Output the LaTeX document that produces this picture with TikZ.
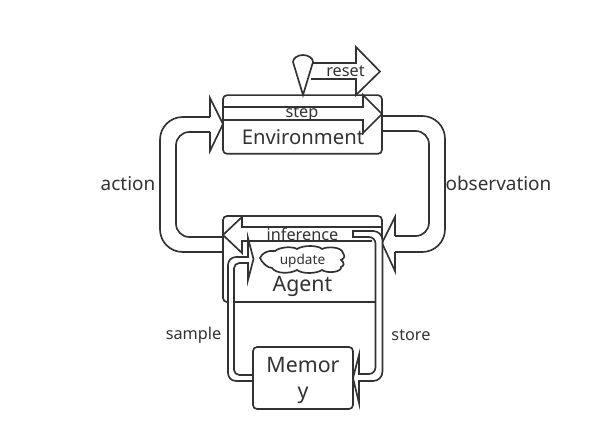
\documentclass[tikz,border=0pt]{standalone}
\usepackage{fontspec}
\setmainfont{Noto Sans}
\definecolor{ink}{HTML}{323232}
\tikzset{
    boxpart/.style={draw=ink, line width=1.25pt, rounded corners=3pt, inner sep=0pt},
    flow/.style={draw=ink, line width=1.25pt, line join=miter},
    bigtext/.style={text=ink, inner sep=0pt, font=\fontsize{15.2}{20}\selectfont},
    agenttext/.style={text=ink, inner sep=0pt, align=center, font=\fontsize{16}{19.5}\selectfont},
    midtext/.style={text=ink, inner sep=0pt, font=\fontsize{14.2}{17}\selectfont},
    smalltext/.style={text=ink, inner sep=0pt, font=\fontsize{12.2}{15}\selectfont}
}
\begin{document}
\begin{tikzpicture}[x=0.75pt, y=-0.75pt]
    \useasboundingbox (0,0) rectangle (611,442);

    % Boxes
    \node[boxpart, minimum width=119.25pt, minimum height=44pt] (envBox) at (302.5,124.5) {};
    \node[boxpart, minimum width=119.25pt, minimum height=64.5pt] (agentBox) at (302.5,259) {};

    % Reset
    \draw[flow] (303,95) -- (293,62) .. controls (293,58) and (298,55) .. (303,55)
        .. controls (308,55) and (313,58) .. (313,62) -- cycle;
    \draw[flow] (313,63) -- (356,63) -- (356,47) -- (380,71.5) -- (356,95) -- (356,79) -- (311,79);

    % Step
    \draw[flow] (223,107) -- (363,107) -- (363,95) -- (382,114) -- (363,133) -- (363,120) -- (223,120);

    % Action
    \draw[flow, rounded corners=17pt] (223,252) -- (160,252) -- (160,117) -- (210,117);
    \draw[flow, rounded corners=10pt] (223,237) -- (176,237) -- (176,132) -- (210,132);
    \draw[flow] (210,117) -- (210,98) -- (223,124) -- (210,151) -- (210,132);

    % Observation
    \draw[flow, rounded corners=17pt] (382,116) -- (445,116) -- (445,252) -- (395,252);
    \draw[flow, rounded corners=10pt] (382,131) -- (429,131) -- (429,236) -- (395,236);
    \draw[flow] (395,236) -- (395,217) -- (382,243) -- (395,271) -- (395,252);

    % Inference
    \draw[flow] (382,227) -- (242,227) -- (242,217) -- (223,235) -- (242,253) -- (242,241) -- (372,241);

    % Store
    \draw[flow, fill=white] (353,231) {[rounded corners=7pt] -- (382.5,231) -- (382.5,381)} -- (359,381)
        -- (359,403) -- (353,378) -- (359,355) -- (359,374)
        {[rounded corners=5pt] -- (375.5,374) -- (375.5,237)} -- (353,237) -- cycle;

    % Sample
    \draw[flow, fill=white] (253,381) {[rounded corners=6pt] -- (228,381) -- (228,257)} -- (248,257)
        -- (248,238) -- (253.5,259) -- (248,280) -- (248,263)
        {[rounded corners=4pt] -- (234,263) -- (234,375)} -- (253,375) -- cycle;

    % Memory
    \node[boxpart, fill=white, minimum width=75pt, minimum height=46.5pt] (memoryBox) at (303,378) {};

    % Update cloud
    \node[inner sep=0pt, text=ink, font=\fontsize{10.2}{13}\selectfont] (updateCloud) at (302.5,261) {update};
    \draw[flow] (260,258) .. controls (262,253) and (268,250) .. (275,251)
        .. controls (280,247) and (292,246) .. (297,249)
        .. controls (303,245) and (318,245) .. (322,249)
        .. controls (328,246) and (342,247) .. (343,253)
        .. controls (345,256) and (345,258) .. (341,260)
        .. controls (345,263) and (344,266) .. (341,267)
        .. controls (342,272) and (328,274) .. (322,270)
        .. controls (316,274) and (302,274) .. (297,270)
        .. controls (290,274) and (276,274) .. (272,268)
        .. controls (268,268) and (262,263) .. (260,258) -- cycle;

    % Labels
    \node[bigtext] (envLabel) at (303,137) {Environment};
    \node[agenttext] (agentLabel) at (302.5,286) {Agent};
    \node[agenttext] (memoryLabel) at (303,380) {Memor\\y};
    \node[smalltext] (resetLabel) at (345.5,71.5) {reset};
    \node[smalltext] (stepLabel) at (302,114.5) {step};
    \node[smalltext] (inferenceLabel) at (302.5,234.5) {inference};
    \node[midtext] (actionLabel) at (128,183.5) {action};
    \node[midtext] (observationLabel) at (498.5,183.5) {observation};
    \node[smalltext] (sampleLabel) at (193.5,335.5) {sample};
    \node[smalltext] (storeLabel) at (411,335.5) {store};
\end{tikzpicture}
\end{document}
